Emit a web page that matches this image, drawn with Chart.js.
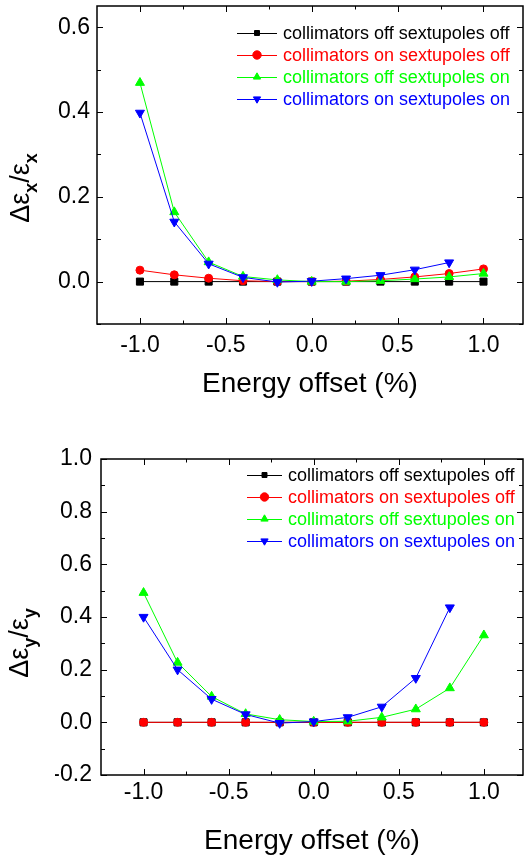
<!DOCTYPE html>
<html>
<head>
<meta charset="utf-8">
<script src="https://cdn.jsdelivr.net/npm/chart.js@4.4.0/dist/chart.umd.min.js"></script>
<style>
body { margin: 0; background: #fff; }
canvas { display: block; }
</style>
</head>
<body>
<canvas id="chartX" width="525" height="430"></canvas>
<canvas id="chartY" width="525" height="430"></canvas>
<script>
// energy offset in %
const energy = [-1.0, -0.8, -0.6, -0.4, -0.2, 0.0, 0.2, 0.4, 0.6, 0.8, 1.0];

const seriesNames = [
  'collimators off sextupoles off',
  'collimators on sextupoles off',
  'collimators off sextupoles on',
  'collimators on sextupoles on'
];

// horizontal emittance growth
const xOffOff = [0, 0, 0, 0, 0, 0, 0, 0, 0, 0, 0];
const xOnOff  = [0.027, 0.016, 0.008, 0.002, 0.000, 0.000, 0.001, 0.005, 0.011, 0.019, 0.030];
const xOffOn  = [0.469, 0.164, 0.046, 0.012, 0.004, 0.000, 0.000, 0.002, 0.006, 0.011, 0.019];
const xOnOn   = [0.398, 0.141, 0.042, 0.010, -0.001, 0.001, 0.007, 0.015, 0.028, 0.045, null];

// vertical emittance growth
const yOffOff = [0, 0, 0, 0, 0, 0, 0, 0, 0, 0, 0];
const yOnOff  = [0, 0, 0, 0, 0, 0, 0, 0, 0, 0, 0];
const yOffOn  = [0.492, 0.227, 0.098, 0.032, 0.010, 0.003, 0.004, 0.019, 0.050, 0.130, 0.331];
const yOnOn   = [0.400, 0.200, 0.088, 0.030, -0.003, 0.003, 0.019, 0.059, 0.168, 0.436, null];

// tick labels
const xTickLabels = [-1.0, -0.5, 0.0, 0.5, 1.0];
const xMinorTicks = [-0.75, -0.25, 0.25, 0.75];
const yTicksTop = [0.0, 0.2, 0.4, 0.6];
const yMinorTop = [-0.1, 0.1, 0.3, 0.5];
const yTicksBottom = [-0.2, 0.0, 0.2, 0.4, 0.6, 0.8, 1.0];
const yMinorBottom = [-0.1, 0.1, 0.3, 0.5, 0.7, 0.9];

const FONT = '"Liberation Sans", Arial, Helvetica, sans-serif';
const colors = ['#000000', '#ff0000', '#00ff00', '#0000ff'];
const styles = ['rect', 'circle', 'triangle', 'triangle'];
const rotations = [0, 0, 0, 180];
const radii = [5, 4, 5.2, 5.2];

function toPoints(vals) {
  const pts = [];
  energy.forEach((e, i) => { if (vals[i] !== null) pts.push({x: e, y: vals[i]}); });
  return pts;
}

function drawMarker(ctx, i, x, y, r) {
  ctx.fillStyle = colors[i];
  ctx.strokeStyle = colors[i];
  Chart.helpers.drawPoint(ctx, {pointStyle: styles[i], rotation: rotations[i], radius: r, borderWidth: 1}, x, y);
}

// frame, inward ticks, legend and y title
const framePlugin = {
  id: 'frame',
  afterDraw(chart, args, opts) {
    const ctx = chart.ctx;
    const {left, right, top, bottom} = chart.chartArea;
    const xs = chart.scales.x, ys = chart.scales.y;
    ctx.save();
    ctx.strokeStyle = '#000';
    ctx.lineWidth = 1.5;
    ctx.strokeRect(left, top, right - left, bottom - top);
    ctx.lineWidth = 1;
    const tick = (vals, len) => {
      vals.forEach(v => {
        const px = Math.round(xs.getPixelForValue(v)) + 0.5;
        ctx.beginPath();
        ctx.moveTo(px, bottom); ctx.lineTo(px, bottom - len);
        ctx.moveTo(px, top); ctx.lineTo(px, top + len);
        ctx.stroke();
      });
    };
    const ytick = (vals, len) => {
      vals.forEach(v => {
        const py = Math.round(ys.getPixelForValue(v)) + 0.5;
        ctx.beginPath();
        ctx.moveTo(left, py); ctx.lineTo(left + len, py);
        ctx.moveTo(right, py); ctx.lineTo(right - len, py);
        ctx.stroke();
      });
    };
    tick(xTickLabels, 6);
    tick(xMinorTicks, 3.5);
    ytick(opts.yMajor, 6);
    ytick(opts.yMinor, 4);

    // legend
    const lg = opts.legend;
    ctx.font = '18px ' + FONT;
    ctx.textBaseline = 'middle';
    ctx.textAlign = 'left';
    seriesNames.forEach((name, i) => {
      const y = lg.y + i * lg.row;
      ctx.strokeStyle = colors[i];
      ctx.lineWidth = 1;
      ctx.beginPath();
      ctx.moveTo(lg.x, y + 0.5); ctx.lineTo(lg.x + lg.len, y + 0.5);
      ctx.stroke();
      drawMarker(ctx, i, lg.x + lg.len / 2, y, i === 0 ? 3.5 : 4.2);
      ctx.fillStyle = colors[i];
      ctx.fillText(name, lg.x + lg.len + 6, y + 1);
    });

    // y axis title with subscripts
    const t = opts.yTitle;
    ctx.translate(t.x, t.y);
    ctx.rotate(-Math.PI / 2);
    const big = t.size + 'px ' + FONT;
    const small = 'bold ' + Math.round(t.size * 0.68) + 'px ' + FONT;
    const parts = [['\u0394\u03b5', big, 0], [t.sub, small, t.size * 0.28], ['/', big, 0], ['\u03b5', big, 0], [t.sub, small, t.size * 0.28]];
    let w = 0;
    parts.forEach(p => { ctx.font = p[1]; w += ctx.measureText(p[0]).width; });
    let cx = -w / 2;
    ctx.fillStyle = '#000';
    ctx.textBaseline = 'alphabetic';
    parts.forEach(p => {
      ctx.font = p[1];
      ctx.fillText(p[0], cx, p[2]);
      cx += ctx.measureText(p[0]).width;
    });
    ctx.restore();
  }
};

function makeChart(id, series, cfg) {
  const datasets = series.map((vals, i) => ({
    label: seriesNames[i],
    data: toPoints(vals),
    borderColor: colors[i],
    backgroundColor: colors[i],
    borderWidth: 1,
    pointStyle: styles[i],
    pointRotation: rotations[i],
    pointRadius: radii[i],
    pointBorderWidth: 1,
    pointBackgroundColor: colors[i],
    pointBorderColor: colors[i],
    tension: 0,
    order: 4 - i
  }));
  return new Chart(document.getElementById(id), {
    type: 'line',
    data: {datasets: datasets},
    plugins: [framePlugin],
    options: {
      responsive: false,
      animation: false,
      events: [],
      devicePixelRatio: 1,
      layout: {padding: cfg.padding, autoPadding: false},
      plugins: {
        legend: {display: false},
        tooltip: {enabled: false},
        frame: cfg.frame
      },
      scales: {
        x: {
          type: 'linear',
          min: -1.25,
          max: 1.23,
          grid: {display: false, drawTicks: false},
          border: {display: false},
          afterBuildTicks: s => { s.ticks = xTickLabels.map(v => ({value: v})); },
          afterFit: s => {
            s.height = cfg.xHeight;
            s.paddingLeft = 0; s.paddingRight = 0;
          },
          ticks: {
            color: '#000',
            font: {family: FONT, size: 23},
            padding: cfg.xPad,
            maxRotation: 0,
            autoSkip: false,
            callback: v => v.toFixed(1)
          },
          title: {
            display: true,
            text: 'Energy offset (%)',
            color: '#000',
            font: {family: FONT, size: 28},
            padding: {top: 0, bottom: cfg.titlePad}
          }
        },
        y: {
          min: cfg.yMin,
          max: cfg.yMax,
          grid: {display: false, drawTicks: false},
          border: {display: false},
          afterBuildTicks: s => { s.ticks = cfg.yTicks.map(v => ({value: v})); },
          afterFit: s => {
            s.width = cfg.yWidth;
            s.paddingTop = 0; s.paddingBottom = 0;
          },
          ticks: {
            color: '#000',
            font: {family: FONT, size: 23},
            padding: cfg.yPad,
            callback: v => v.toFixed(1)
          }
        }
      }
    }
  });
}

makeChart('chartX', [xOffOff, xOnOff, xOffOn, xOnOn], {
  padding: {left: 57, right: 2, top: 6, bottom: 0},
  xHeight: 106, xPad: 8, titlePad: 29,
  yMin: -0.1, yMax: 0.65, yTicks: yTicksTop, yWidth: 40, yPad: 7,
  frame: {
    yMajor: yTicksTop, yMinor: yMinorTop,
    legend: {x: 237, y: 33, row: 22, len: 40},
    yTitle: {x: 29, y: 188, size: 27, sub: 'x'}
  }
});

makeChart('chartY', [yOffOff, yOnOff, yOffOn, yOnOn], {
  padding: {left: 55, right: 2, top: 29, bottom: 0},
  xHeight: 85, xPad: 4, titlePad: 2,
  yMin: -0.2, yMax: 1.0, yTicks: yTicksBottom, yWidth: 46, yPad: 9,
  frame: {
    yMajor: yTicksBottom, yMinor: yMinorBottom,
    legend: {x: 247, y: 45, row: 22, len: 35},
    yTitle: {x: 28, y: 213, size: 27, sub: 'y'}
  }
});
</script>
</body>
</html>
